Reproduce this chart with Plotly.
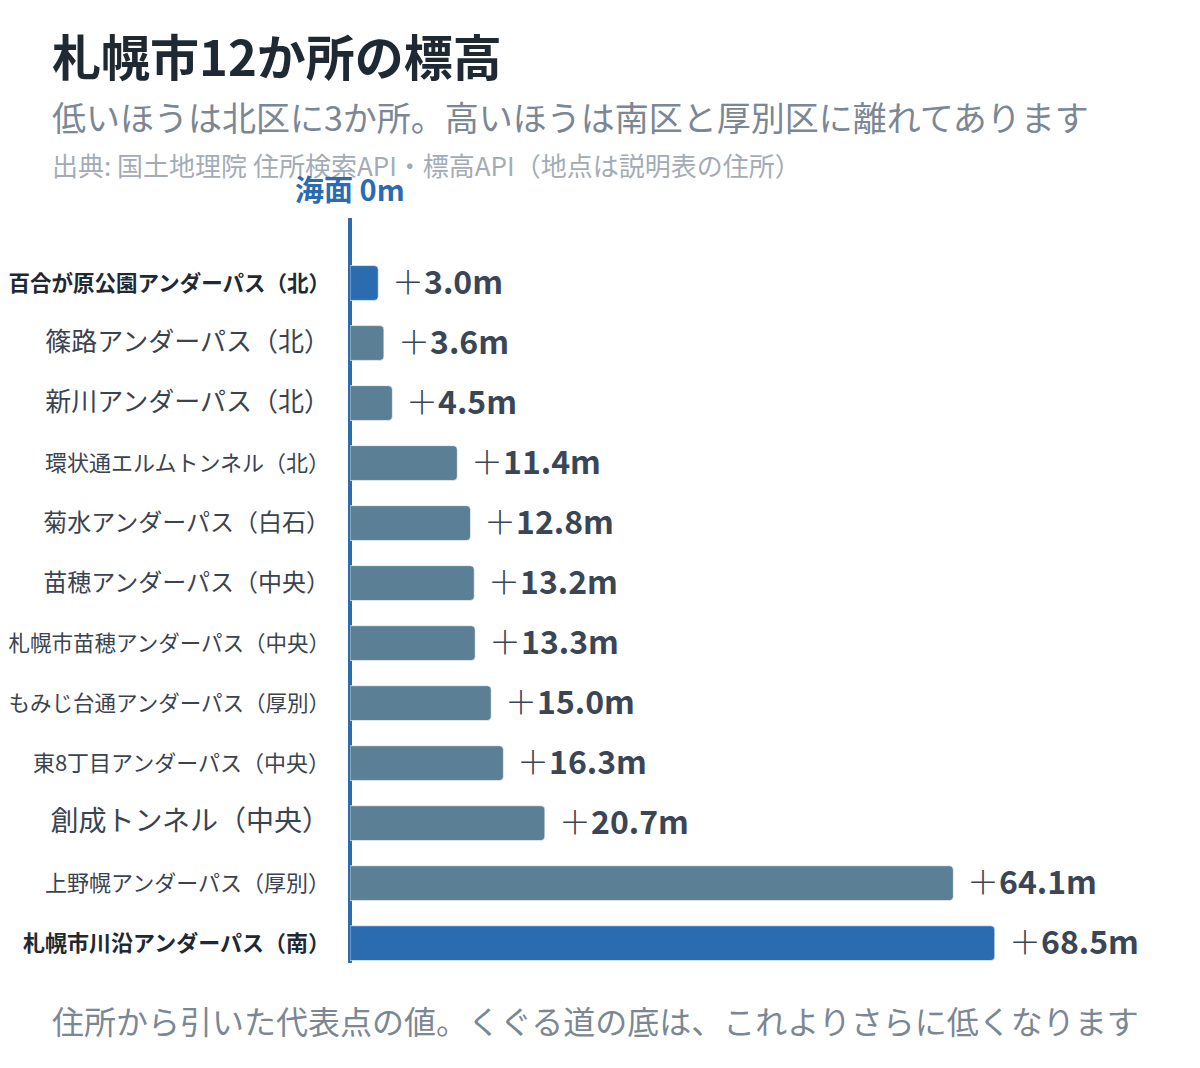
import plotly.graph_objects as go

# 札幌市のアンダーパス・トンネル 12か所（標高 m）
places = [
    '百合が原公園アンダーパス（北）',
    '篠路アンダーパス（北）',
    '新川アンダーパス（北）',
    '環状通エルムトンネル（北）',
    '菊水アンダーパス（白石）',
    '苗穂アンダーパス（中央）',
    '札幌市苗穂アンダーパス（中央）',
    'もみじ台通アンダーパス（厚別）',
    '東8丁目アンダーパス（中央）',
    '創成トンネル（中央）',
    '上野幌アンダーパス（厚別）',
    '札幌市川沿アンダーパス（南）',
]
elevation = [3.0, 3.6, 4.5, 11.4, 12.8, 13.2, 13.3, 15.0, 16.3, 20.7, 64.1, 68.5]
highlight = [True, False, False, False, False, False, False, False, False, False, False, True]
label_size = [21.5, 26, 26, 22, 24, 24, 21.5, 21.5, 22, 28, 22, 22]

BLUE = '#2b6cb0'
GRAY_BAR = '#5b7f95'
FONT = 'Noto Sans CJK JP'

colors = [BLUE if h else GRAY_BAR for h in highlight]
ticktext = []
for name, h, s in zip(places, highlight, label_size):
    if h:
        t = "<b><span style='font-size:%spx;color:#1f2933'>%s</span></b>" % (s, name)
    else:
        t = "<span style='font-size:%spx'>%s</span>" % (s, name)
    ticktext.append(t)

fig = go.Figure()
fig.add_trace(go.Bar(
    x=elevation,
    y=places,
    orientation='h',
    marker=dict(color=colors, line=dict(color='rgba(255,255,255,0.6)', width=1)),
    width=0.58,
    hoverinfo='x+y',
))

# 値ラベル
for name, v in zip(places, elevation):
    fig.add_annotation(
        x=v, y=name, xref='x', yref='y',
        text="<span style='font-weight:300'>＋</span>%.1fm" % v, showarrow=False,
        xanchor='left', xshift=12, yshift=3,
        font=dict(family=FONT, size=32, color='#3a4656', weight='bold'),
    )

# 図の中の配置（px）
W, H = 1200, 1068
L, R, T, B = 342, 105, 210, 113

fig.update_layout(
    width=W, height=H,
    margin=dict(l=L, r=R, t=T, b=B),
    paper_bgcolor='white', plot_bgcolor='white',
    showlegend=False,
    barcornerradius=4,
    font=dict(family=FONT, color='#3a4350'),
    xaxis=dict(
        range=[0, 80], showgrid=False, showticklabels=False, ticks='',
        zeroline=True, zerolinecolor=BLUE, zerolinewidth=4,
    ),
    yaxis=dict(
        categoryorder='array', categoryarray=places,
        tickvals=places, ticktext=ticktext,
        range=[11.33, -1.083], automargin=False,
        showgrid=False, ticks='', ticklabelstandoff=19,
        tickfont=dict(family=FONT, size=22, color='#3a4350'),
    ),
)

pw, ph = W - L - R, H - T - B
def px(x):
    return (x - L) / pw
def py(y):
    return (H - B - y) / ph

# タイトルと注記
texts = [
    ('札幌市12か所の標高', 42, 47, 'left', 49, '#1f2933', 'bold'),
    ('低いほうは北区に3か所。高いほうは南区と厚別区に離れてあります', 42, 108, 'left', 34, '#7b8794', 'normal'),
    ('出典: 国土地理院 住所検索API・標高API（地点は説明表の住所）', 42, 157, 'left', 26, '#a3acb6', 'normal'),
    ('海面 0m', 342, 180, 'center', 29, BLUE, 'bold'),
    ('住所から引いた代表点の値。くぐる道の底は、これよりさらに低くなります', 42, 1012, 'left', 32, '#7b8794', 'normal'),
]
for text, xx, yy, anchor, size, color, weight in texts:
    fig.add_annotation(
        x=px(xx), y=py(yy), xref='paper', yref='paper', text=text,
        showarrow=False, xanchor=anchor, yanchor='middle',
        font=dict(family=FONT, size=size, color=color, weight=weight),
    )

fig.write_html('out.html')
